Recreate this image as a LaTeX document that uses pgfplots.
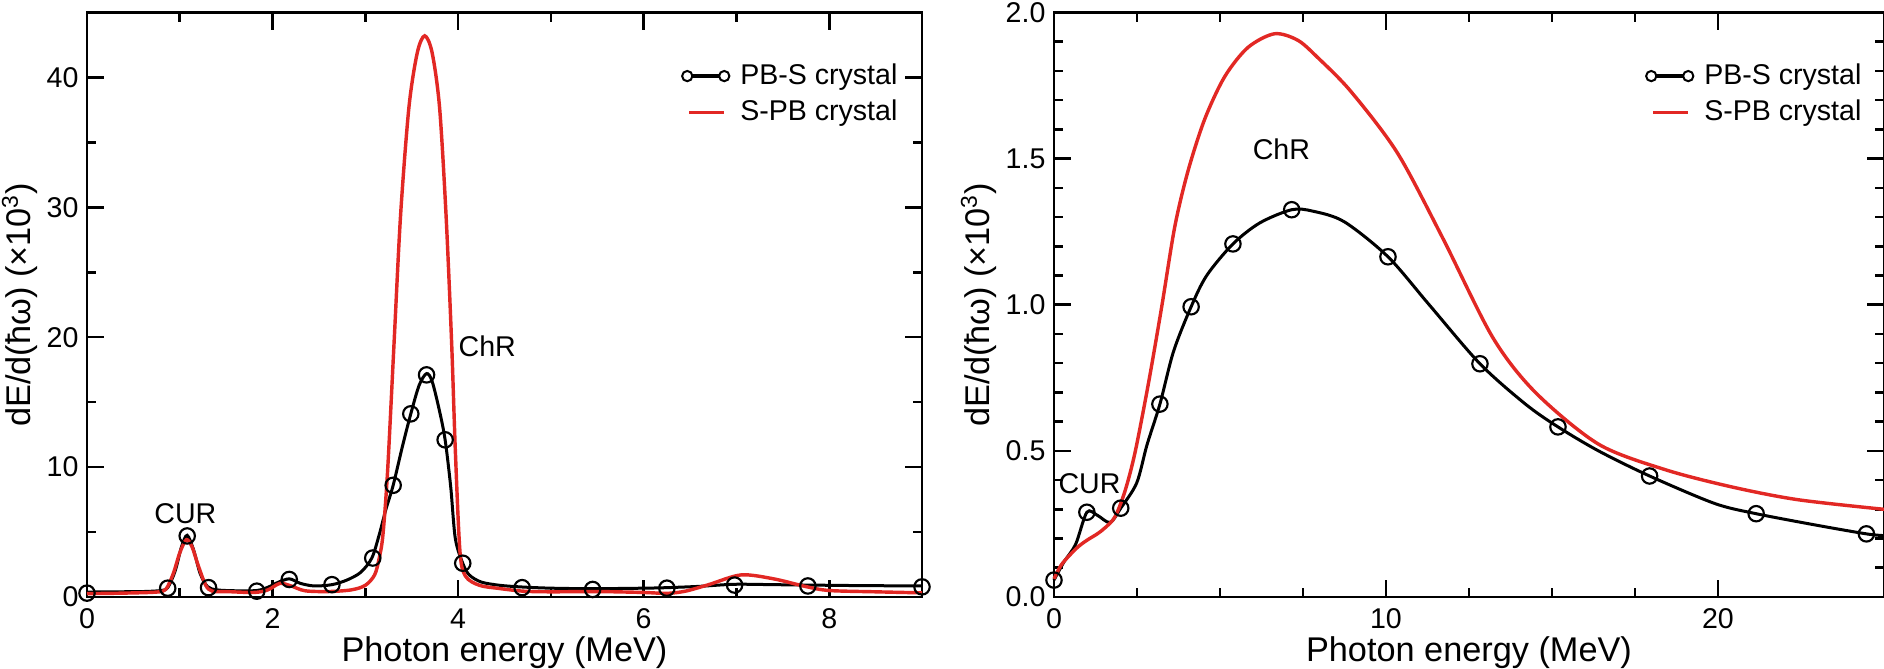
\documentclass[border=0pt]{standalone}
\usepackage{fontspec}
\setmainfont{Liberation Sans}
\usepackage{pgfplots}
\pgfplotsset{compat=1.18}
\definecolor{cred}{RGB}{226,40,36}

\pgfplotstableread{
x y
0.00 0.38
0.30 0.40
0.60 0.42
0.80 0.50
0.87 0.72
0.95 2.0
1.02 3.9
1.08 4.75
1.15 3.6
1.22 1.8
1.30 0.80
1.40 0.55
1.60 0.48
1.83 0.50
1.95 0.75
2.05 1.10
2.18 1.40
2.30 1.05
2.45 0.85
2.64 0.95
2.80 1.30
2.95 1.90
3.07 3.0
3.15 4.8
3.22 6.7
3.30 8.6
3.40 11.6
3.49 14.1
3.58 16.3
3.66 17.2
3.72 16.6
3.80 14.3
3.86 12.1
3.92 8.5
3.97 4.5
4.05 2.6
4.12 1.7
4.25 1.15
4.45 0.90
4.69 0.77
5.00 0.68
5.45 0.64
6.00 0.68
6.25 0.72
6.60 0.82
6.98 0.98
7.40 0.95
7.77 0.92
8.30 0.88
9.00 0.85
}\leftblack

\pgfplotstableread{
x y
0.00 0.30
0.87 0.68
1.08 4.70
1.31 0.72
1.83 0.45
2.18 1.35
2.64 0.95
3.08 3.0
3.30 8.6
3.49 14.1
3.66 17.1
3.86 12.1
4.05 2.6
4.69 0.72
5.45 0.58
6.25 0.68
6.98 0.92
7.77 0.85
9.00 0.78
}\leftmarks

\pgfplotstableread{
x y
0.00 0.26
0.40 0.30
0.75 0.38
0.85 0.60
0.93 1.8
1.00 3.4
1.07 4.4
1.13 3.9
1.20 2.4
1.28 0.9
1.35 0.45
1.50 0.42
1.80 0.35
1.95 0.55
2.08 1.05
2.20 0.85
2.35 0.48
2.60 0.42
2.85 0.55
3.00 0.90
3.10 1.7
3.15 3.0
3.19 4.8
3.24 9.7
3.31 19.6
3.38 29.4
3.47 37.7
3.56 41.9
3.64 43.2
3.72 41.9
3.80 37.7
3.87 29.4
3.93 19.6
3.97 11.3
4.02 3.5
4.08 1.6
4.23 0.90
4.44 0.66
4.70 0.45
5.00 0.40
5.50 0.42
6.00 0.35
6.25 0.28
6.45 0.45
6.70 0.95
7.05 1.70
7.40 1.40
7.75 0.80
8.00 0.50
8.50 0.40
9.00 0.32
}\leftred

\pgfplotstableread{
x y
0.00 0.058
0.30 0.12
0.65 0.18
0.99 0.29
1.30 0.28
1.69 0.255
2.01 0.304
2.49 0.39
2.80 0.52
3.19 0.66
3.60 0.84
4.13 0.993
4.60 1.10
5.39 1.208
6.20 1.28
7.16 1.325
7.80 1.32
8.74 1.284
10.06 1.164
11.30 1.00
12.83 0.798
14.20 0.66
15.18 0.582
16.40 0.50
17.94 0.414
19.90 0.32
21.15 0.285
23.00 0.245
24.47 0.216
25.00 0.21
}\rightblack

\pgfplotstableread{
x y
0.00 0.058
0.99 0.29
2.01 0.304
3.19 0.66
4.13 0.993
5.39 1.208
7.16 1.325
10.06 1.164
12.83 0.798
15.18 0.582
17.94 0.414
21.15 0.285
24.47 0.216
}\rightmarks

\pgfplotstableread{
x y
0.00 0.062
0.24 0.113
0.69 0.168
0.99 0.194
1.29 0.215
1.54 0.237
1.84 0.275
2.14 0.363
2.44 0.494
2.84 0.728
3.24 0.99
3.64 1.268
4.04 1.459
4.54 1.635
5.14 1.78
5.84 1.88
6.64 1.927
7.34 1.905
7.94 1.846
8.94 1.73
10.34 1.52
11.70 1.23
13.21 0.889
14.50 0.70
16.40 0.523
18.40 0.436
20.40 0.377
22.40 0.333
25.00 0.300
}\rightred

\pgfplotsset{
  myaxis/.style={
    scale only axis,
    height=204.6pt,
    clip=false,
    axis line style={line width=0.9pt},
    every tick/.style={black, line width=0.9pt},
    major tick length=6pt,
    minor tick length=3.3pt,
    tick align=inside,
    /pgf/number format/assume math mode=true,
    tick label style={font=\fontsize{10}{12}\selectfont},
    xticklabel style={anchor=north, inner sep=0pt, yshift=-3.85pt},
    yticklabel style={anchor=east, inner sep=0pt, xshift=-2.8pt},
    label style={font=\fontsize{12}{14}\selectfont},
    xlabel style={at={(axis description cs:0.5,0)}, anchor=north, inner sep=0pt, yshift=-13.8pt},
    xlabel={Photon energy (MeV)},
    ylabel={dE/d(ħω) (×10\textsuperscript{3})},
    legend cell align=left,
    legend style={draw=none, fill=none, at={(1,1)}, anchor=north east,
      font=\fontsize{10}{12}\selectfont, inner sep=0pt, row sep=4.05pt,
      nodes={inner sep=0pt}},
    blackline/.style={black, line width=1.05pt, smooth},
    redline/.style={cred, line width=1.2pt, smooth},
    markstyle/.style={only marks, mark=o, mark size=2.7pt, mark options={black, line width=0.75pt, fill=white}},
    pbsimg/.style={legend image code/.code={
      \path[draw=none,fill=none] (-2.2pt,-2.95pt) rectangle (18.55pt,2.95pt);
      \draw[black,line width=1.4pt] (0pt,0pt) -- (12.95pt,0pt);
      \draw[black,line width=0.7pt,fill=white] (0pt,0pt) circle (1.8pt) (12.95pt,0pt) circle (1.8pt);}},
    spbimg/.style={legend image code/.code={
      \path[draw=none,fill=none] (-2.2pt,-2.95pt) rectangle (18.55pt,2.95pt);
      \draw[cred,line width=1.3pt] (0.7pt,0pt) -- (12.95pt,0pt);}},
  }
}

\begin{document}
\begin{tikzpicture}
\begin{axis}[myaxis,
  at={(0pt,0pt)}, anchor=south west,
  width=292.25pt,
  xmin=0, xmax=9, ymin=0, ymax=45,
  xtick={0,2,4,6,8}, minor x tick num=1,
  ytick={0,10,20,30,40}, minor y tick num=1,
  ylabel style={at={(axis description cs:0,0.5)}, anchor=south, inner sep=0pt, yshift=17.15pt},
  legend style={xshift=-8.4pt, yshift=-17.7pt},
]
\addlegendimage{pbsimg}
\addlegendentry{PB-S crystal}
\addlegendimage{spbimg}
\addlegendentry{S-PB crystal}
\addplot[blackline, forget plot] table {\leftblack};
\addplot[markstyle, forget plot] table {\leftmarks};
\addplot[redline, forget plot] table {\leftred};
\node[font=\fontsize{10}{12}\selectfont] at (axis cs:1.06,6.4) {CUR};
\node[font=\fontsize{10}{12}\selectfont, anchor=west, inner sep=0pt] at (axis cs:4.0,19.3) {ChR};
\end{axis}

\begin{axis}[myaxis,
  at={(338.45pt,0pt)}, anchor=south west,
  width=290.5pt,
  xmin=0, xmax=25, ymin=0, ymax=2,
  xtick={0,10,20}, minor x tick num=3,
  ytick={0,0.5,1,1.5,2}, minor y tick num=4,
  yticklabel style={/pgf/number format/.cd, fixed, fixed zerofill, precision=1},
  ylabel style={at={(axis description cs:0,0.5)}, anchor=south, inner sep=0pt, yshift=20pt},
  legend style={xshift=-7.7pt, yshift=-17.7pt},
]
\addlegendimage{pbsimg}
\addlegendentry{PB-S crystal}
\addlegendimage{spbimg}
\addlegendentry{S-PB crystal}
\addplot[blackline, forget plot] table {\rightblack};
\addplot[markstyle, forget plot] table {\rightmarks};
\addplot[redline, forget plot] table {\rightred};
\node[font=\fontsize{10}{12}\selectfont] at (axis cs:1.07,0.389) {CUR};
\node[font=\fontsize{10}{12}\selectfont] at (axis cs:6.85,1.532) {ChR};
\end{axis}
\pgfresetboundingbox
\path[use as bounding box] (-30.45pt,-24.85pt) rectangle (628.95pt,208.95pt);
\end{tikzpicture}
\end{document}
